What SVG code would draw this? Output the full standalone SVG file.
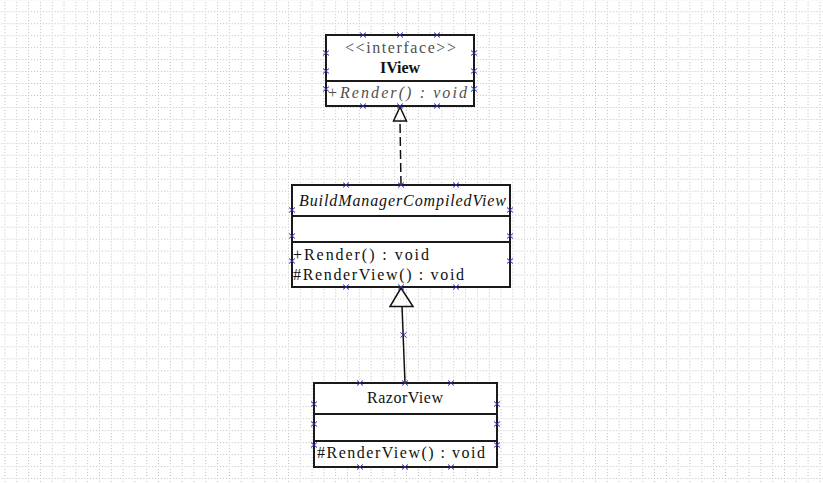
<svg xmlns="http://www.w3.org/2000/svg" width="823" height="483" viewBox="0 0 823 483">
<style>
.box{fill:#fff;stroke:#1a1a1a;stroke-width:2}
.sep{stroke:#1a1a1a;stroke-width:2}
.t{font-family:"Liberation Serif","DejaVu Serif",serif;font-size:16px;fill:#111}
.c{text-anchor:middle}
.i{font-style:italic}
.g{fill:#505050}
.b{font-weight:bold}
.conn{stroke:#111;stroke-width:1.5;fill:none}
.h{stroke:#2a2ab0;stroke-width:1;fill:none}
</style>
<defs>
<pattern id="grid" patternUnits="userSpaceOnUse" x="4.5" y="11.2" width="11.81" height="11.97">
<line x1="0.5" y1="0" x2="0.5" y2="11.97" stroke="#bcbcbc" stroke-width="1" stroke-dasharray="1,2"/>
<line x1="0" y1="0.5" x2="11.81" y2="0.5" stroke="#bcbcbc" stroke-width="1" stroke-dasharray="1,2"/>
</pattern>
<g id="hx"><path class="h" d="M-3,-2.5L3,2.5M3,-2.5L-3,2.5"/></g>
</defs>
<rect x="0" y="0" width="823" height="483" fill="#fff"/>
<rect x="0" y="0" width="823" height="483" fill="url(#grid)"/>

<g id="connectors">
<line class="conn" x1="401" y1="185" x2="400" y2="121" stroke-dasharray="9,4"/>
<polygon class="conn" fill="#fff" points="400,107 393.5,121 406.5,121"/>
<line class="conn" x1="405" y1="383" x2="402" y2="306"/>
<polygon class="conn" fill="#fff" points="401,288 390,306.5 413,306.5"/>
<use href="#hx" x="403.5" y="335"/>
</g>

<g id="IView">
<rect class="box" x="326" y="35" width="148" height="71"/>
<line class="sep" x1="326" y1="81" x2="474" y2="81"/>
<text class="t g" x="345" y="52.5" textLength="111" lengthAdjust="spacing">&lt;&lt;interface&gt;&gt;</text>
<text class="t b" x="380" y="72.5" textLength="40" lengthAdjust="spacing">IView</text>
<text class="t i g" x="327" y="97.5" textLength="140" lengthAdjust="spacing">+Render() : void</text>
<use href="#hx" x="363" y="35"/><use href="#hx" x="400" y="35"/><use href="#hx" x="437" y="35"/>
<use href="#hx" x="363" y="106"/><use href="#hx" x="400" y="106"/><use href="#hx" x="437" y="106"/>
<use href="#hx" x="326" y="53"/><use href="#hx" x="326" y="71"/><use href="#hx" x="326" y="89"/>
<use href="#hx" x="474" y="53"/><use href="#hx" x="474" y="71"/><use href="#hx" x="474" y="89"/>
</g>

<g id="BuildManagerCompiledView">
<rect class="box" x="292" y="185" width="218" height="102"/>
<line class="sep" x1="292" y1="216" x2="510" y2="216"/>
<line class="sep" x1="292" y1="242" x2="510" y2="242"/>
<text class="t i" x="299" y="206" textLength="207" lengthAdjust="spacing">BuildManagerCompiledView</text>
<text class="t" x="293" y="259.5" textLength="136" lengthAdjust="spacing">+Render() : void</text>
<text class="t" x="293" y="279.5" textLength="171" lengthAdjust="spacing">#RenderView() : void</text>
<use href="#hx" x="346" y="185"/><use href="#hx" x="401" y="185"/><use href="#hx" x="456" y="185"/>
<use href="#hx" x="346" y="287"/><use href="#hx" x="401" y="287"/><use href="#hx" x="456" y="287"/>
<use href="#hx" x="292" y="210"/><use href="#hx" x="292" y="236"/><use href="#hx" x="292" y="261"/>
<use href="#hx" x="510" y="210"/><use href="#hx" x="510" y="236"/><use href="#hx" x="510" y="261"/>
</g>

<g id="RazorView">
<rect class="box" x="314" y="383" width="183" height="84"/>
<line class="sep" x1="314" y1="414" x2="497" y2="414"/>
<line class="sep" x1="314" y1="441" x2="497" y2="441"/>
<text class="t" x="367" y="402.5" textLength="76" lengthAdjust="spacing">RazorView</text>
<text class="t" x="317" y="457.5" textLength="168" lengthAdjust="spacing">#RenderView() : void</text>
<use href="#hx" x="360" y="383"/><use href="#hx" x="405" y="383"/><use href="#hx" x="451" y="383"/>
<use href="#hx" x="360" y="467"/><use href="#hx" x="405" y="467"/><use href="#hx" x="451" y="467"/>
<use href="#hx" x="314" y="404"/><use href="#hx" x="314" y="424"/><use href="#hx" x="314" y="445"/>
<use href="#hx" x="497" y="404"/><use href="#hx" x="497" y="424"/><use href="#hx" x="497" y="445"/>
</g>
</svg>
